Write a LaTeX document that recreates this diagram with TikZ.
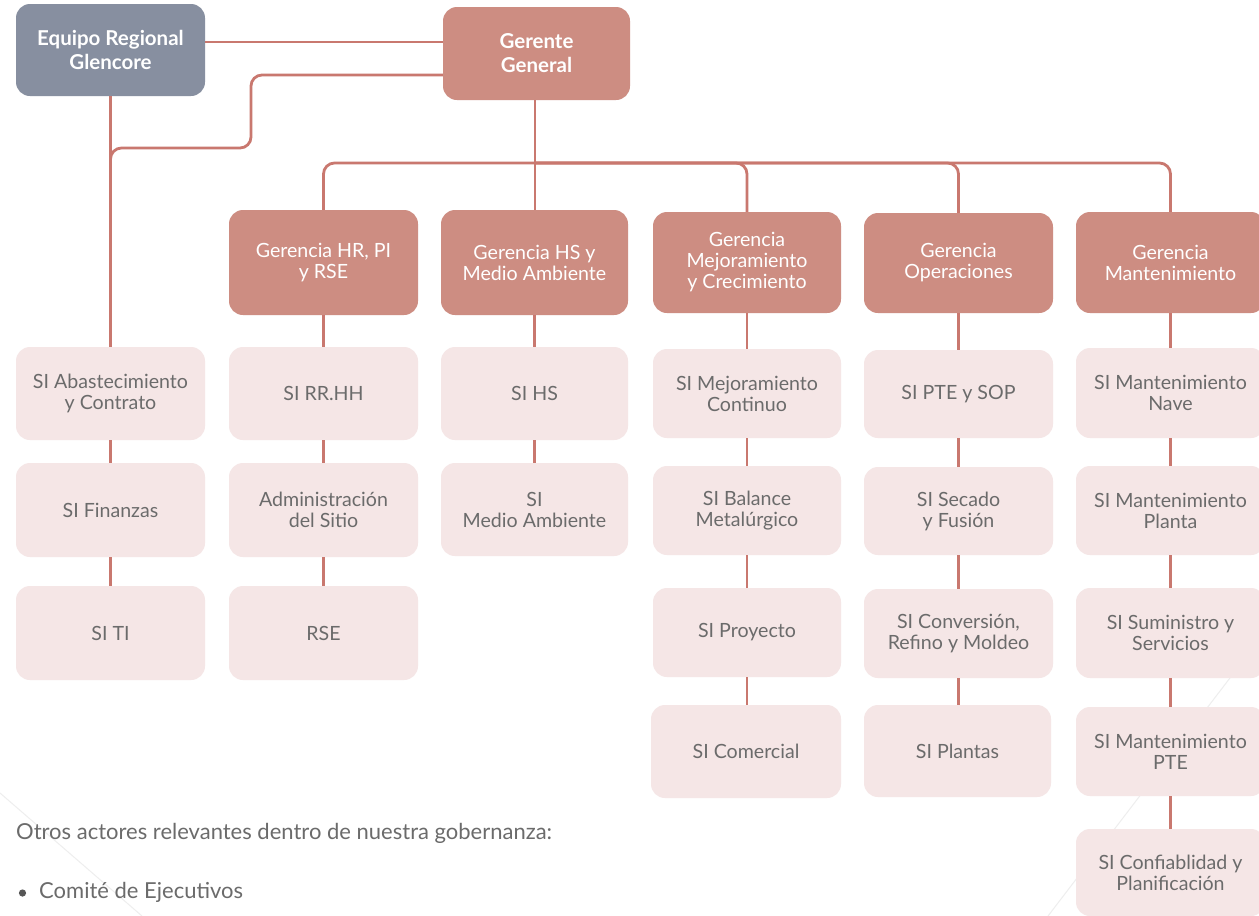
\documentclass[tikz,border=0pt]{standalone}
\usepackage{fontspec}
\setmainfont{Lato}
\definecolor{salmon}{HTML}{CD8D82}
\definecolor{slate}{HTML}{878FA0}
\definecolor{blush}{HTML}{F5E6E6}
\definecolor{wire}{HTML}{C9786F}
\definecolor{ink}{HTML}{6B6B6B}
\definecolor{ghost}{HTML}{EEEEEE}
\tikzset{
  box/.style={rounded corners=14pt, inner sep=0pt, align=center,
    font=\fontsize{19.6}{21}\selectfont},
  head/.style={box, fill=salmon, text=white, minimum width=189pt, minimum height=102pt},
  top/.style={box, text=white, minimum width=189pt, minimum height=92pt,
    font=\bfseries\fontsize{20.5}{24}\selectfont},
  sub/.style={box, fill=blush, text=ink, minimum width=189pt, minimum height=91pt},
  conn/.style={draw=wire, line width=2.8pt},
  elbow/.style={conn, rounded corners=11pt},
  foot/.style={anchor=west, text=ink, inner sep=0pt, font=\fontsize{22}{26}\selectfont},
}
\begin{document}
\begin{tikzpicture}[x=1pt,y=-1pt]
\useasboundingbox (0,0) rectangle (1259,916);
\fill[white] (0,0) rectangle (1259,916);
% faint background strokes
\draw[ghost, line width=1pt] (0,793) -- (142,916);
\draw[ghost, line width=1pt] (1048,916) -- (1259,640);

% top level
\node[top, fill=slate] (eq) at (110.5,50) {Equipo Regional\\Glencore};
\node[top, fill=salmon, minimum width=187pt, minimum height=93pt] (gg) at (536.5,53.5) {Gerente\\General};

% managers
\node[head, minimum height=105pt] (hr) at (323.5,262.5) {Gerencia HR, PI\\y RSE};
\node[head, minimum width=187pt, minimum height=105pt] (hs) at (534.5,262.5) {Gerencia HS y\\Medio Ambiente};
\node[head, minimum width=188pt, minimum height=101pt] (mej) at (747,262.5) {Gerencia\\Mejoramiento\\y Crecimiento};
\node[head, minimum height=100pt] (ope) at (958.5,263) {Gerencia\\Operaciones};
\node[head, minimum height=101pt] (man) at (1170.5,262.5) {Gerencia\\Mantenimiento};

% column 1
\node[sub, minimum height=93pt] (abas) at (110.5,393.5) {SI Abastecimiento\\y Contrato};
\node[sub, minimum height=94pt] (fin) at (110.5,510) {SI Finanzas};
\node[sub, minimum height=94pt] (ti) at (110.5,633) {SI TI};
% column 2
\node[sub, minimum height=93pt] (rrhh) at (323.5,393.5) {SI RR.HH};
\node[sub, minimum height=94pt] (adm) at (323.5,510) {Administración\\del Sitio};
\node[sub, minimum height=94pt] (rse) at (323.5,633) {RSE};
% column 3
\node[sub, minimum width=187pt, minimum height=93pt] (sihs) at (534.5,393.5) {SI HS};
\node[sub, minimum width=187pt, minimum height=93pt] (ma) at (534.5,509.5) {SI\\Medio Ambiente};
% column 4
\node[sub, minimum width=188pt, minimum height=89pt] (cont) at (747,393.5) {SI Mejoramiento\\Continuo};
\node[sub, minimum width=188pt, minimum height=89pt] (bal) at (747,510.5) {SI Balance\\Metalúrgico};
\node[sub, minimum width=188pt, minimum height=89pt] (proy) at (747,632.5) {SI Proyecto};
\node[sub, minimum width=190pt, minimum height=93pt] (com) at (746,751.5) {SI Comercial};
% column 5
\node[sub, minimum height=88pt] (pte) at (958.5,394) {SI PTE y SOP};
\node[sub, minimum height=88pt] (sec) at (958.5,511) {SI Secado\\y Fusión};
\node[sub, minimum height=89pt] (conv) at (958.5,633.5) {SI Conversión,\\Refino y Moldeo};
\node[sub, minimum width=187pt, minimum height=92pt] (pla) at (957.5,751) {SI Plantas};
% column 6
\node[sub, minimum height=90pt] (nave) at (1170.5,393) {SI Mantenimiento\\Nave};
\node[sub, minimum height=89pt] (plan) at (1170.5,510.5) {SI Mantenimiento\\Planta};
\node[sub, minimum height=90pt] (sum) at (1170.5,633) {SI Suministro y\\Servicios};
\node[sub, minimum height=89pt] (mpte) at (1170.5,751.5) {SI Mantenimiento\\PTE};
\node[sub, minimum height=87pt] (conf) at (1170.5,872.5) {SI Confiablidad y\\Planificación};

\coordinate (bus) at (535,163);

% links from the top level
\draw[conn] ([yshift=8pt]eq.east) -- ([yshift=8pt]eq.east -| gg.west);
\draw[elbow] ([yshift=-21.5pt]gg.west) -- (251,75) -- (251,148) -- (abas.north |- 0,148) -- (abas.north |- 0,175);
\draw[conn] (eq.south -| abas.north) -- (abas.north);
\draw[conn] (gg.south -| bus) -- (hs.north -| bus);

% bus to managers
\draw[elbow] (bus) -| (hr.north);
\draw[elbow] (bus) -| (mej.north);
\draw[elbow] (bus) -| (ope.north);
\draw[elbow] (bus) -| (man.north);

% chains of sub-units
\draw[conn] (abas.south) -- (fin.north);
\draw[conn] (fin.south) -- (ti.north);
\draw[conn] (hr.south) -- (rrhh.north);
\draw[conn] (rrhh.south) -- (adm.north);
\draw[conn] (adm.south) -- (rse.north);
\draw[conn] (hs.south) -- (sihs.north);
\draw[conn] (sihs.south) -- (ma.north);
\draw[conn] (mej.south) -- (cont.north);
\draw[conn] (cont.south) -- (bal.north);
\draw[conn] (bal.south) -- (proy.north);
\draw[conn] (proy.south) -- (proy.south |- com.north);
\draw[conn] (ope.south) -- (pte.north);
\draw[conn] (pte.south) -- (sec.north);
\draw[conn] (sec.south) -- (conv.north);
\draw[conn] (conv.south) -- (conv.south |- pla.north);
\draw[conn] (man.south) -- (nave.north);
\draw[conn] (nave.south) -- (plan.north);
\draw[conn] (plan.south) -- (sum.north);
\draw[conn] (sum.south) -- (mpte.north);
\draw[conn] (mpte.south) -- (conf.north);

% footnote text
\node[foot] (otros) at (16,833) {Otros actores relevantes dentro de nuestra gobernanza:};
\fill[ink!80!black] (22.5,893) circle (3.6pt);
\node[foot] (comite) at (39,892) {Comité de Ejecutivos};
\end{tikzpicture}
\end{document}
